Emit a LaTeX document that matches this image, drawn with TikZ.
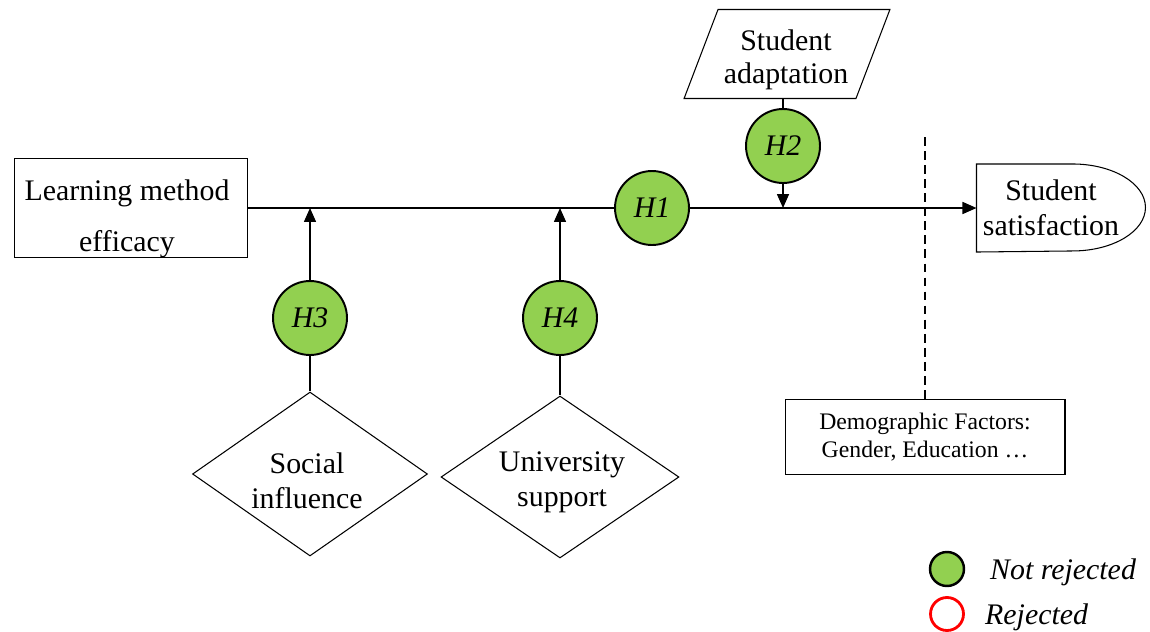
\documentclass[tikz,border=0pt]{standalone}
\usepackage{fontspec}
\setmainfont{Liberation Serif}
\usetikzlibrary{shapes.geometric,arrows.meta}
\definecolor{hgreen}{HTML}{92D050}
\definecolor{rejred}{HTML}{FF0000}

\begin{document}
\begin{tikzpicture}[x=0.02cm,y=-0.02cm,
  box/.style={draw,line width=0.6pt,align=center,font=\fontsize{17}{20}\selectfont},
  boxtext/.style={align=center,font=\fontsize{17}{20}\selectfont},
  hyp/.style={circle,draw,line width=1.1pt,fill=hgreen,minimum size=1.48cm,inner sep=0pt,font=\fontsize{17}{20}\selectfont\itshape},
  legtext/.style={anchor=west,font=\fontsize{17}{20}\selectfont\itshape},
  link/.style={line width=0.9pt},
  arr/.style={line width=0.9pt,-{Triangle[length=0.28cm,width=0.24cm]}}]
\useasboundingbox (0,0) rectangle (1150,632);

\node[box,minimum width=4.66cm,minimum height=1.98cm] (lme) at (131,208) {};
\node[boxtext,font=\fontsize{17}{29}\selectfont] (lmetext) at (127,219) {Learning method\\efficacy};
\node[box,draw=none,minimum width=2.96cm,minimum height=1.74cm,inner sep=0pt] (sat) at (1051,208) {Student\\satisfaction};
\draw[line width=0.6pt] (sat.south west) -- (sat.north west) -- ++(96,0) arc[start angle=90,end angle=-90,x radius=1.46cm,y radius=0.87cm] -- cycle;
\node[box,trapezium,trapezium left angle=75,trapezium right angle=105,trapezium stretches,minimum width=4.12cm,minimum height=1.78cm,inner sep=0pt] (sa) at (787,54) {\phantom{x}};
\node[boxtext,font=\fontsize{17}{19}\selectfont] (satext) at (786,60) {Student\\adaptation};
\node[box,diamond,minimum width=4.7cm,minimum height=3.28cm,inner sep=0pt] (si) at (310,474) {\phantom{x}};
\node[boxtext] (sitext) at (307,481) {Social\\influence};
\node[box,diamond,minimum width=4.76cm,minimum height=3.24cm,inner sep=0pt] (us) at (560,477) {\phantom{x}};
\node[boxtext] (ustext) at (562,482) {University\\support};
\node[box,minimum width=5.6cm,minimum height=1.5cm,font=\fontsize{13.5}{16}\selectfont] (demo) at (925,437) {Demographic Factors:\\Gender, Education …};

\draw[arr] (lme.east) -- (sat.west);

\node[hyp] (h1) at (652,208) {H1};
\node[hyp] (h2) at (783,146) {H2};
\node[hyp] (h3) at (310,318) {H3};
\node[hyp] (h4) at (560,318) {H4};

\draw[link] (h2.north) -- (h2.north |- sa.south);
\draw[arr] (h2.south) -- (h2.south |- sat.west);
\draw[arr] (h3.north) -- (h3.north |- lme.east);
\draw[link] (h3.south) -- (si.north);
\draw[arr] (h4.north) -- (h4.north |- lme.east);
\draw[link] (h4.south) -- (us.north);

\coordinate (dtop) at (925,137);
\draw[line width=0.7pt,dash pattern=on 5pt off 3pt] (dtop) -- (demo.north);

% legend
\node[hyp,minimum size=0.68cm,line width=1.4pt] (leg1) at (947,569) {};
\node[legtext] (leg1t) at (984,572) {Not rejected};
\node[circle,draw=rejred,line width=1.6pt,minimum size=0.66cm,inner sep=0pt] (leg2) at (947,614) {};
\node[legtext] (leg2t) at (979,617) {Rejected};

\end{tikzpicture}
\end{document}
